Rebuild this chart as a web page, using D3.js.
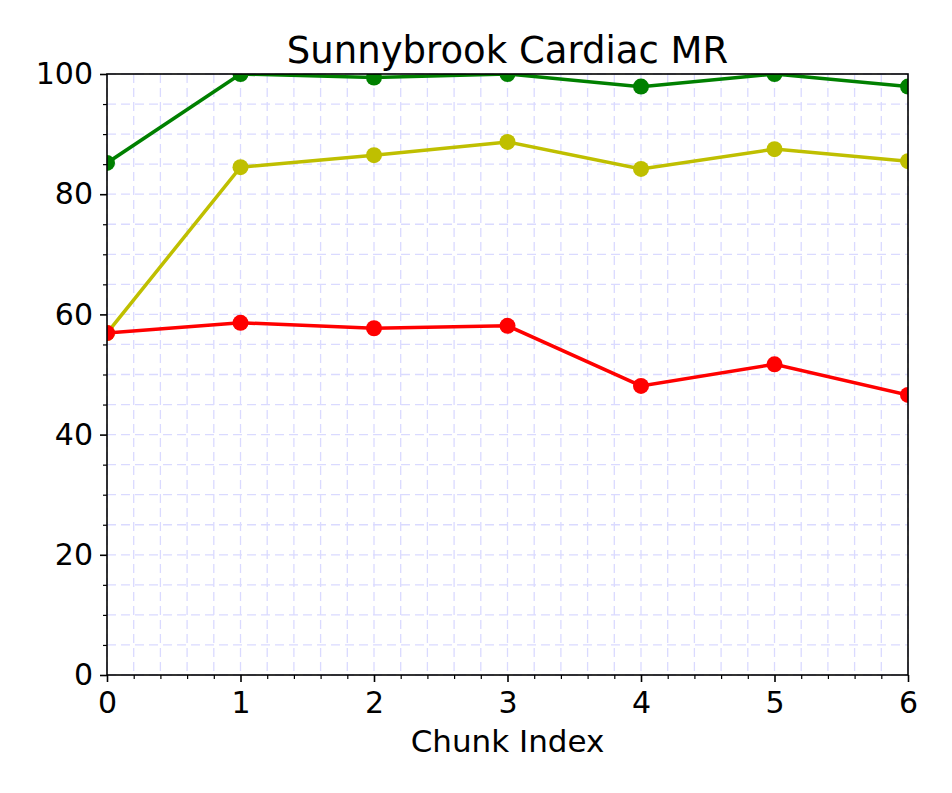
<!DOCTYPE html>
<html><head><meta charset="utf-8">
<script src="https://cdn.jsdelivr.net/npm/d3@7"></script>
<style>body{margin:0;background:#fff}text{font-family:"DejaVu Sans",sans-serif}</style>
</head><body>
<svg id="c" width="952" height="793"></svg>
<script>
const title = "Sunnybrook Cardiac MR";
const xLabel = "Chunk Index";
const chunks = [0, 1, 2, 3, 4, 5, 6];
const greenSeries = [85.2, 100, 99.4, 100, 97.9, 100, 97.9];
const yellowSeries = [56.9, 84.5, 86.5, 88.7, 84.2, 87.5, 85.5];
const redSeries = [56.9, 58.6, 57.7, 58.1, 48.1, 51.7, 46.6];
const xTicks = [0, 1, 2, 3, 4, 5, 6];
const yTicks = [0, 20, 40, 60, 80, 100];
const series = [
  {values: greenSeries, color: "#008000"},
  {values: yellowSeries, color: "#bfbf00"},
  {values: redSeries, color: "#ff0000"}
];

const svg = d3.select("#c");
const L = 107, R = 908, T = 74, B = 675;
const x = d3.scaleLinear().domain([0, 6]).range([L, R]);
const y = d3.scaleLinear().domain([0, 100]).range([B, T]);

const xMinor = d3.range(0, 6.0001, 0.2);
const yMinor = d3.range(0, 100.001, 5);

const grid = svg.append("g");
grid.selectAll(".gx").data(xMinor).join("line")
  .attr("x1", d => x(d)).attr("x2", d => x(d)).attr("y1", T).attr("y2", B)
  .attr("stroke", "#dadaff").attr("stroke-width", 1.3).attr("stroke-dasharray", "9,5");
grid.selectAll(".gy").data(yMinor).join("line")
  .attr("y1", d => y(d)).attr("y2", d => y(d)).attr("x1", L).attr("x2", R)
  .attr("stroke", "#dadaff").attr("stroke-width", 1.3).attr("stroke-dasharray", "9,5");

svg.append("defs").append("clipPath").attr("id", "clip")
  .append("rect").attr("x", L).attr("y", T).attr("width", R - L).attr("height", B - T);

const plot = svg.append("g").attr("clip-path", "url(#clip)");
const line = d3.line().x((d, i) => x(chunks[i])).y(d => y(d));
series.forEach(s => {
  plot.append("path").datum(s.values).attr("d", line)
    .attr("fill", "none").attr("stroke", s.color).attr("stroke-width", 3.5);
  plot.selectAll(null).data(s.values).join("circle")
    .attr("cx", (d, i) => x(chunks[i])).attr("cy", d => y(d)).attr("r", 8)
    .attr("fill", s.color);
});

// axes
const xAxis = d3.axisBottom(x).tickValues(xTicks).tickFormat(d3.format("d")).tickSize(7).tickPadding(10);
const yAxis = d3.axisLeft(y).tickValues(yTicks).tickFormat(d3.format("d")).tickSize(7).tickPadding(7);
const gx = svg.append("g").attr("transform", `translate(0,${B})`).call(xAxis);
const gy = svg.append("g").attr("transform", `translate(${L},0)`).call(yAxis);
[gx, gy].forEach(g => {
  g.select(".domain").remove();
  g.selectAll("line").attr("stroke", "#000").attr("stroke-width", 1.6);
  g.selectAll("text").attr("font-size", 30).attr("fill", "#000").style("font-family", "DejaVu Sans");
});
svg.append("g").attr("transform", `translate(0,${B})`)
  .call(d3.axisBottom(x).tickValues(xMinor.filter(v => Math.abs(v - Math.round(v)) > 1e-6)).tickSize(4).tickFormat(""))
  .call(g => { g.select(".domain").remove(); g.selectAll("line").attr("stroke", "#000").attr("stroke-width", 1.2); });
svg.append("g").attr("transform", `translate(${L},0)`)
  .call(d3.axisLeft(y).tickValues(yMinor.filter(v => v % 20 !== 0)).tickSize(4).tickFormat(""))
  .call(g => { g.select(".domain").remove(); g.selectAll("line").attr("stroke", "#000").attr("stroke-width", 1.2); });

svg.append("rect").attr("x", L).attr("y", T).attr("width", R - L).attr("height", B - T)
  .attr("fill", "none").attr("stroke", "#000").attr("stroke-width", 1.6);

svg.append("text").attr("x", (L + R) / 2).attr("y", 63).attr("text-anchor", "middle")
  .attr("font-size", 37).text(title);
svg.append("text").attr("x", (L + R) / 2).attr("y", 752).attr("text-anchor", "middle")
  .attr("font-size", 31).text(xLabel);
</script>
</body></html>
